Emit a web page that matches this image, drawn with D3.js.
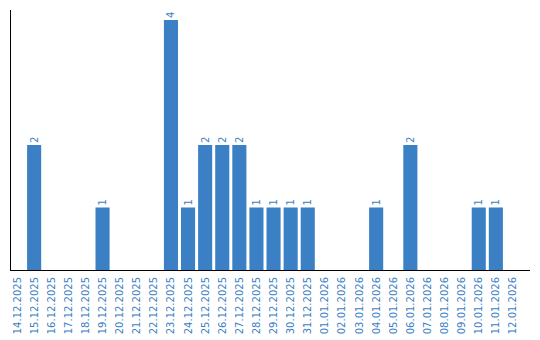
<!DOCTYPE html>
<html>
<head>
<meta charset="utf-8">
<script src="https://cdn.jsdelivr.net/npm/d3@7"></script>
<style>
  body { margin: 0; background: #fff; }
  svg { display: block; font-family: "DejaVu Sans", Verdana, sans-serif; }
</style>
</head>
<body>
<div id="chart"></div>
<script>
const dates = [
  "14.12.2025", "15.12.2025", "16.12.2025", "17.12.2025", "18.12.2025",
  "19.12.2025", "20.12.2025", "21.12.2025", "22.12.2025", "23.12.2025",
  "24.12.2025", "25.12.2025", "26.12.2025", "27.12.2025", "28.12.2025",
  "29.12.2025", "30.12.2025", "31.12.2025", "01.01.2026", "02.01.2026",
  "03.01.2026", "04.01.2026", "05.01.2026", "06.01.2026", "07.01.2026",
  "08.01.2026", "09.01.2026", "10.01.2026", "11.01.2026", "12.01.2026"
];
const counts = [
  0, 2, 0, 0, 0, 1, 0, 0, 0, 4,
  1, 2, 2, 2, 1, 1, 1, 1, 0, 0,
  0, 1, 0, 2, 0, 0, 0, 1, 1, 0
];

const width = 540, height = 340;
const left = 10, baseY = 270, topY = 20;
const blue = "#3b7fc4";

const data = dates.map((d, i) => ({ date: d, value: counts[i] }));

const svg = d3.select("#chart")
  .append("svg")
  .attr("width", width)
  .attr("height", height);

const x = d3.scaleBand()
  .domain(dates)
  .range([left, left + 17 * dates.length])
  .paddingInner(3 / 17)
  .paddingOuter(0)
  .align(0);

const y = d3.scaleLinear()
  .domain([0, d3.max(counts)])
  .range([baseY, topY]);

// bars
svg.append("g")
  .selectAll("rect")
  .data(data.filter(d => d.value > 0))
  .join("rect")
  .attr("x", d => x(d.date))
  .attr("y", d => y(d.value))
  .attr("width", x.bandwidth())
  .attr("height", d => y(0) - y(d.value))
  .attr("fill", blue);

// value labels
svg.append("g")
  .selectAll("text")
  .data(data.filter(d => d.value > 0))
  .join("text")
  .attr("transform", d => `translate(${x(d.date) + x.bandwidth() / 2}, ${y(d.value) - 2}) rotate(-90)`)
  .attr("dy", "0.35em")
  .attr("text-anchor", "start")
  .attr("font-size", 10)
  .attr("fill", blue)
  .text(d => d.value);

// axes lines
svg.append("line")
  .attr("x1", left + 0.5).attr("x2", left + 0.5)
  .attr("y1", 10).attr("y2", baseY)
  .attr("stroke", "#000");

svg.append("line")
  .attr("x1", left).attr("x2", 530)
  .attr("y1", baseY + 0.5).attr("y2", baseY + 0.5)
  .attr("stroke", "#000");

// date labels
svg.append("g")
  .selectAll("text")
  .data(dates)
  .join("text")
  .attr("transform", d => `translate(${x(d) + x.bandwidth() / 2}, ${baseY + 7}) rotate(-90)`)
  .attr("dy", "0.35em")
  .attr("text-anchor", "end")
  .attr("font-size", 10)
  .attr("fill", blue)
  .text(d => d);
</script>
</body>
</html>
